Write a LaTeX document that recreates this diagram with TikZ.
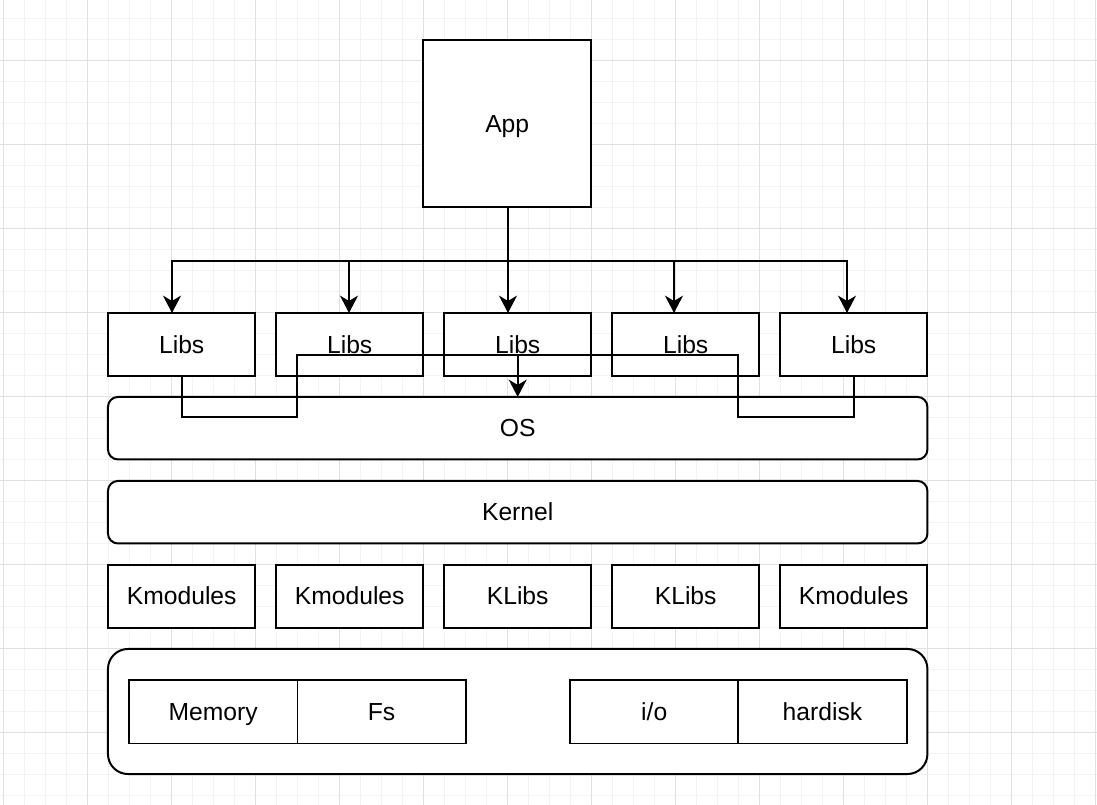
\documentclass[tikz,border=0pt]{standalone}
\usepackage{fontspec}
\setmainfont{Liberation Sans}
\usetikzlibrary{arrows.meta}
\tikzset{
  box/.style={draw=black, fill=white, line width=1.5pt, rectangle, inner sep=0pt, outer sep=0pt,
    font=\fontsize{18.5}{22}\selectfont, text height=15pt, text depth=2.2pt},
  libbox/.style={box, minimum width=110.6pt, minimum height=47.3pt},
  wide/.style={box, rounded corners=7.5pt, minimum width=614.6pt, minimum height=46.9pt},
  inner/.style={box, line width=1.3pt, minimum width=126.3pt, minimum height=47.5pt},
  arr/.style={line width=1.5pt, -{Stealth[length=13pt, width=13.5pt, inset=4pt]}},
  conn/.style={line width=1.5pt},
  minorgrid/.style={draw={rgb,255:red,243;green,243;blue,243}, line width=0.75pt},
  majorgrid/.style={draw={rgb,255:red,224;green,224;blue,224}, line width=0.75pt},
}
\begin{document}
\begin{tikzpicture}[x=0.75pt, y=-0.75pt]
\useasboundingbox (0,0) rectangle (1097,805);
\fill[white] (0,0) rectangle (1097,805);
% grid
\foreach \k in {0,...,52} \draw[minorgrid] ({3.3+21*\k},0) -- ({3.3+21*\k},805);
\foreach \k in {0,...,37} \draw[minorgrid] (0,{18.3+21*\k}) -- (1097,{18.3+21*\k});
\foreach \k in {0,...,13} \draw[majorgrid] ({3.3+84*\k},0) -- ({3.3+84*\k},805);
\foreach \k in {0,...,8} \draw[majorgrid] (0,{60.3+84*\k}) -- (1097,{60.3+84*\k});

% nodes
\node[box, minimum width=126pt, minimum height=125.6pt] (App) at (507.2,123.7) {App};
\node[libbox] (L1) at (181.7,344.5) {Libs};
\node[libbox] (L2) at (349.7,344.5) {Libs};
\node[libbox] (L3) at (517.7,344.5) {Libs};
\node[libbox] (L4) at (685.7,344.5) {Libs};
\node[libbox] (L5) at (853.7,344.5) {Libs};
\node[wide] (OS) at (517.7,428.2) {OS};
\node[wide] (Kernel) at (517.7,512.2) {Kernel};
\node[libbox] (K1) at (181.7,596.3) {Kmodules};
\node[libbox] (K2) at (349.7,596.3) {Kmodules};
\node[libbox] (K3) at (517.7,596.3) {KLibs};
\node[libbox] (K4) at (685.7,596.3) {KLibs};
\node[libbox] (K5) at (853.7,596.3) {Kmodules};
\node[box, rounded corners=15pt, minimum width=614.6pt, minimum height=93.8pt] (HW) at (517.7,711.5) {};
\node[inner] (Mem) at (213.2,711.7) {Memory};
\node[inner] (Fs) at (381.6,711.7) {Fs};
\node[inner] (IO) at (654.2,711.7) {i/o};
\node[inner] (HD) at (822.5,711.7) {hardisk};

% connectors from App
\coordinate (bus) at (508,261);
\foreach \x/\n in {172/1,349/2,508/3,674/4,847/5}
  \draw[arr] (App.south -| bus) -- (bus) -| (L\n.north -| \x,0);

% Libs1 to Libs5 connector
\draw[conn] (L1.south) |- (297,417.5) -- (297,355) -| (738,417.5) -| (L5.south);
\coordinate (m) at (517.7,355);
\draw[arr] (m) -- (OS.north);
\end{tikzpicture}
\end{document}
